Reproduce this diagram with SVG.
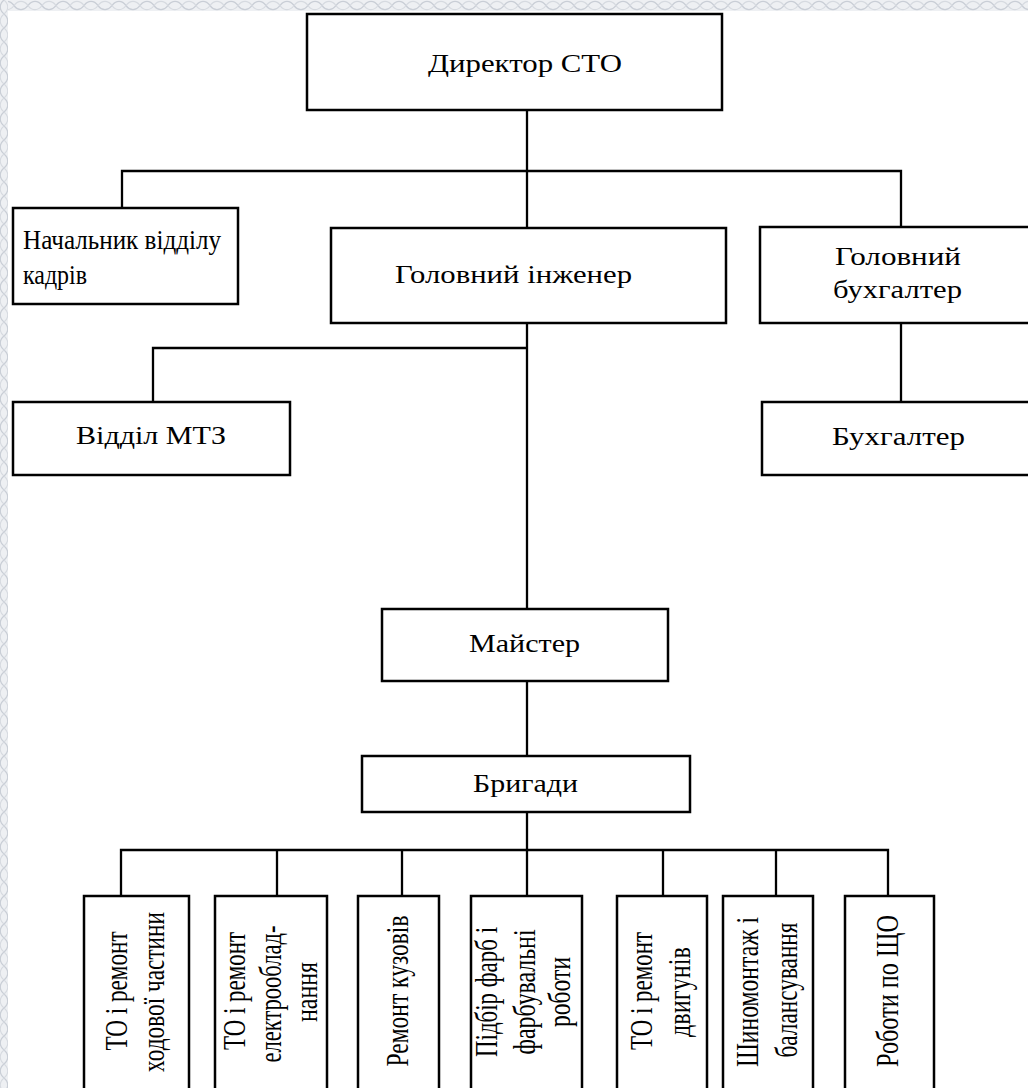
<svg xmlns="http://www.w3.org/2000/svg" width="1028" height="1088" viewBox="0 0 1028 1088">
  <defs>
    <pattern id="lace" width="28" height="11" patternUnits="userSpaceOnUse">
      <rect width="28" height="11" fill="#eef0f3"/>
      <path d="M0 5.5 C4 0,10 0,14 5.5 C18 11,24 11,28 5.5" fill="none" stroke="#c9ced6" stroke-width="1.3"/>
      <path d="M0 5.5 C4 11,10 11,14 5.5 C18 0,24 0,28 5.5" fill="none" stroke="#d6dae0" stroke-width="1.1"/>
    </pattern>
    <pattern id="laceV" width="8" height="28" patternUnits="userSpaceOnUse">
      <rect width="8" height="28" fill="#eef0f3"/>
      <path d="M4 0 C-1 4,-1 10,4 14 C9 18,9 24,4 28" fill="none" stroke="#c9ced6" stroke-width="1.3"/>
      <path d="M4 0 C9 4,9 10,4 14 C-1 18,-1 24,4 28" fill="none" stroke="#d6dae0" stroke-width="1.1"/>
    </pattern>
    <style>
      .box { fill: #ffffff; stroke: #000000; stroke-width: 2.5; }
      .link { fill: none; stroke: #000000; stroke-width: 2.3; }
      .t { font-family: "Liberation Serif", "Times New Roman", serif; font-size: 26px; fill: #000000; }
      .k { font-family: "Liberation Serif", "Times New Roman", serif; font-size: 27px; fill: #000000; }
      .v { font-family: "Liberation Serif", "Times New Roman", serif; font-size: 32px; fill: #000000; text-anchor: middle; }
    </style>
  </defs>

  <!-- page with decorative border -->
  <rect x="0" y="0" width="1028" height="1088" fill="#ffffff"/>
  <rect x="0" y="0" width="1028" height="11" fill="url(#lace)"/>
  <rect x="0" y="0" width="8" height="1088" fill="url(#laceV)"/>

  <!-- connectors -->
  <g id="connectors" class="link">
    <path d="M527 110 V228"/>
    <path d="M122 208 V171 H901 V227"/>
    <path d="M527 323 V609"/>
    <path d="M153 402 V348 H527"/>
    <path d="M901 323 V402"/>
    <path d="M527 681 V756"/>
    <path d="M527 812 V850"/>
    <path d="M121 896 V850 H888 V896"/>
    <path d="M277 850 V896"/>
    <path d="M402 850 V896"/>
    <path d="M527 850 V896"/>
    <path d="M663 850 V896"/>
    <path d="M776 850 V896"/>
  </g>

  <g id="director">
    <rect class="box" x="307" y="14" width="415" height="96"/>
    <text class="t" x="428" y="72" textLength="194" lengthAdjust="spacingAndGlyphs">Директор СТО</text>
  </g>

  <g id="hr-head">
    <rect class="box" x="13" y="208" width="225" height="96"/>
    <text class="k" x="23" y="249" textLength="198" lengthAdjust="spacingAndGlyphs">Начальник відділу</text>
    <text class="k" x="23" y="284" textLength="64" lengthAdjust="spacingAndGlyphs">кадрів</text>
  </g>

  <g id="chief-engineer">
    <rect class="box" x="331" y="228" width="395" height="95"/>
    <text class="t" x="395" y="283" textLength="237" lengthAdjust="spacingAndGlyphs">Головний інженер</text>
  </g>

  <g id="chief-accountant">
    <rect class="box" x="760" y="227" width="300" height="96"/>
    <text class="t" x="835" y="265" textLength="126" lengthAdjust="spacingAndGlyphs">Головний</text>
    <text class="t" x="833" y="298" textLength="129" lengthAdjust="spacingAndGlyphs">бухгалтер</text>
  </g>

  <g id="supply">
    <rect class="box" x="13" y="402" width="277" height="73"/>
    <text class="t" x="76" y="444" textLength="150" lengthAdjust="spacingAndGlyphs">Відділ МТЗ</text>
  </g>

  <g id="accountant">
    <rect class="box" x="762" y="402" width="300" height="73"/>
    <text class="t" x="832" y="445" textLength="133" lengthAdjust="spacingAndGlyphs">Бухгалтер</text>
  </g>

  <g id="master">
    <rect class="box" x="382" y="609" width="286" height="72"/>
    <text class="t" x="469" y="652" textLength="111" lengthAdjust="spacingAndGlyphs">Майстер</text>
  </g>

  <g id="teams">
    <rect class="box" x="362" y="756" width="328" height="56"/>
    <text class="t" x="473" y="792" textLength="105" lengthAdjust="spacingAndGlyphs">Бригади</text>
  </g>

  <g id="chassis">
    <rect class="box" x="84" y="896" width="105" height="220"/>
    <text class="v" transform="translate(127 991) rotate(-90)" textLength="119" lengthAdjust="spacingAndGlyphs">ТО і ремонт</text>
    <text class="v" transform="translate(164 992) rotate(-90)" textLength="160" lengthAdjust="spacingAndGlyphs">ходової частини</text>
  </g>

  <g id="electrical">
    <rect class="box" x="215" y="896" width="112" height="220"/>
    <text class="v" transform="translate(245 991) rotate(-90)" textLength="118" lengthAdjust="spacingAndGlyphs">ТО і ремонт</text>
    <text class="v" transform="translate(281 994) rotate(-90)" textLength="137" lengthAdjust="spacingAndGlyphs">електрооблад-</text>
    <text class="v" transform="translate(317 992) rotate(-90)" textLength="60" lengthAdjust="spacingAndGlyphs">нання</text>
  </g>

  <g id="body">
    <rect class="box" x="358" y="896" width="81" height="220"/>
    <text class="v" transform="translate(408 991) rotate(-90)" textLength="151" lengthAdjust="spacingAndGlyphs">Ремонт кузовів</text>
  </g>

  <g id="paint">
    <rect class="box" x="471" y="896" width="111" height="220"/>
    <text class="v" transform="translate(497 992) rotate(-90)" textLength="130" lengthAdjust="spacingAndGlyphs">Підбір фарб і</text>
    <text class="v" transform="translate(535 992) rotate(-90)" textLength="125" lengthAdjust="spacingAndGlyphs">фарбувальні</text>
    <text class="v" transform="translate(570 992) rotate(-90)" textLength="70" lengthAdjust="spacingAndGlyphs">роботи</text>
  </g>

  <g id="engines">
    <rect class="box" x="617" y="896" width="90" height="220"/>
    <text class="v" transform="translate(652 991) rotate(-90)" textLength="118" lengthAdjust="spacingAndGlyphs">ТО і ремонт</text>
    <text class="v" transform="translate(690 992) rotate(-90)" textLength="90" lengthAdjust="spacingAndGlyphs">двигунів</text>
  </g>

  <g id="tyres">
    <rect class="box" x="723" y="896" width="90" height="220"/>
    <text class="v" transform="translate(758 992) rotate(-90)" textLength="150" lengthAdjust="spacingAndGlyphs">Шиномонтаж і</text>
    <text class="v" transform="translate(797 990) rotate(-90)" textLength="135" lengthAdjust="spacingAndGlyphs">балансування</text>
  </g>

  <g id="daily-service">
    <rect class="box" x="845" y="896" width="89" height="220"/>
    <text class="v" transform="translate(898 991) rotate(-90)" textLength="152" lengthAdjust="spacingAndGlyphs">Роботи по ЩО</text>
  </g>
</svg>
